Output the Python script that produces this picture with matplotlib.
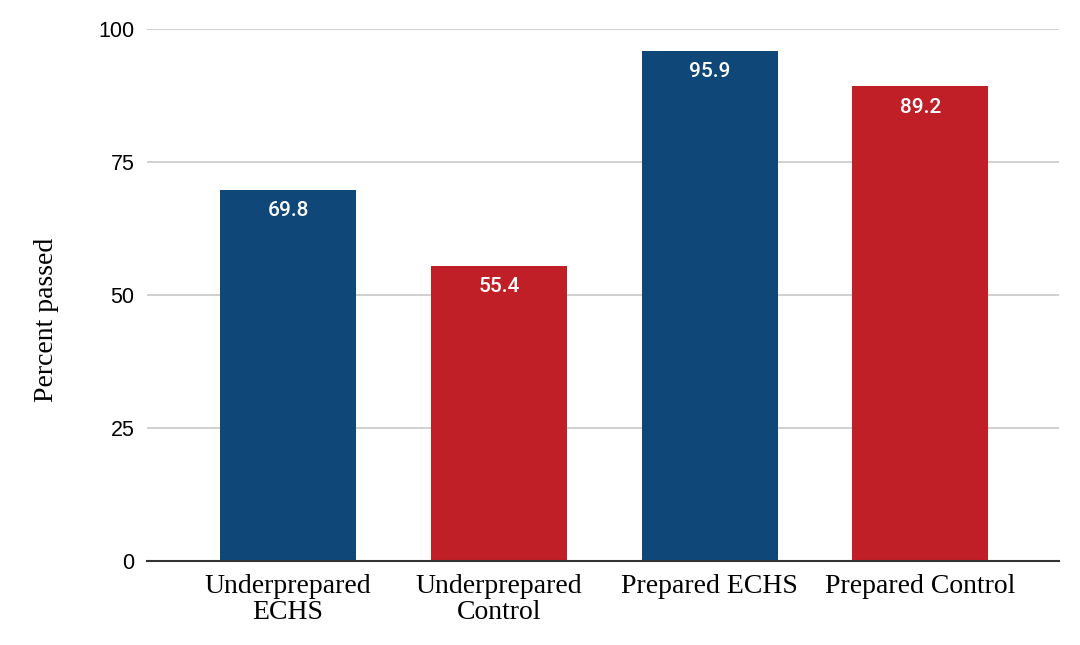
import matplotlib.pyplot as plt

groups = ["Underprepared\nECHS", "Underprepared\nControl", "Prepared ECHS", "Prepared Control"]
passed = [69.8, 55.4, 95.9, 89.2]
colors = ["#0f4778", "#c11f27", "#0f4778", "#c11f27"]
yticks = [0, 25, 50, 75, 100]

fig = plt.figure(figsize=(10.8, 6.45), dpi=100)
ax = fig.add_axes([0.136, 0.130, 0.845, 0.825])

x = range(len(groups))
bars = ax.bar(x, passed, width=0.645, color=colors, zorder=2)

for b, v in zip(bars, passed):
    ax.annotate(f"{v}", (b.get_x() + b.get_width() / 2, v), xytext=(0, -8),
                textcoords="offset points", ha="center", va="top",
                color="white", fontsize=15, family="Roboto", weight="medium")

ax.set_xlim(-0.67, 3.66)
ax.set_ylim(0, 100)
ax.set_yticks(yticks)
ax.set_yticklabels([str(t) for t in yticks], fontsize=15.5, family="Liberation Sans")
ax.set_xticks(list(x))
ax.set_xticklabels(groups, fontsize=20, family="Liberation Serif", linespacing=1.05)
ax.tick_params(axis="y", length=0, pad=9)
ax.tick_params(axis="x", length=0, pad=9)
fig.text(47 / 1080, 1 - 320 / 645, "Percent passed", rotation=90, ha="center", va="center",
         fontsize=20, family="Liberation Serif")

ax.grid(axis="y", color="#c8c8c8", linewidth=1.2, zorder=0)
for s in ["top", "right", "left"]:
    ax.spines[s].set_visible(False)
ax.spines["bottom"].set_color("#333333")
ax.spines["bottom"].set_linewidth(1.5)
ax.spines["bottom"].set_zorder(3)

fig.savefig("out.png", dpi=100)
